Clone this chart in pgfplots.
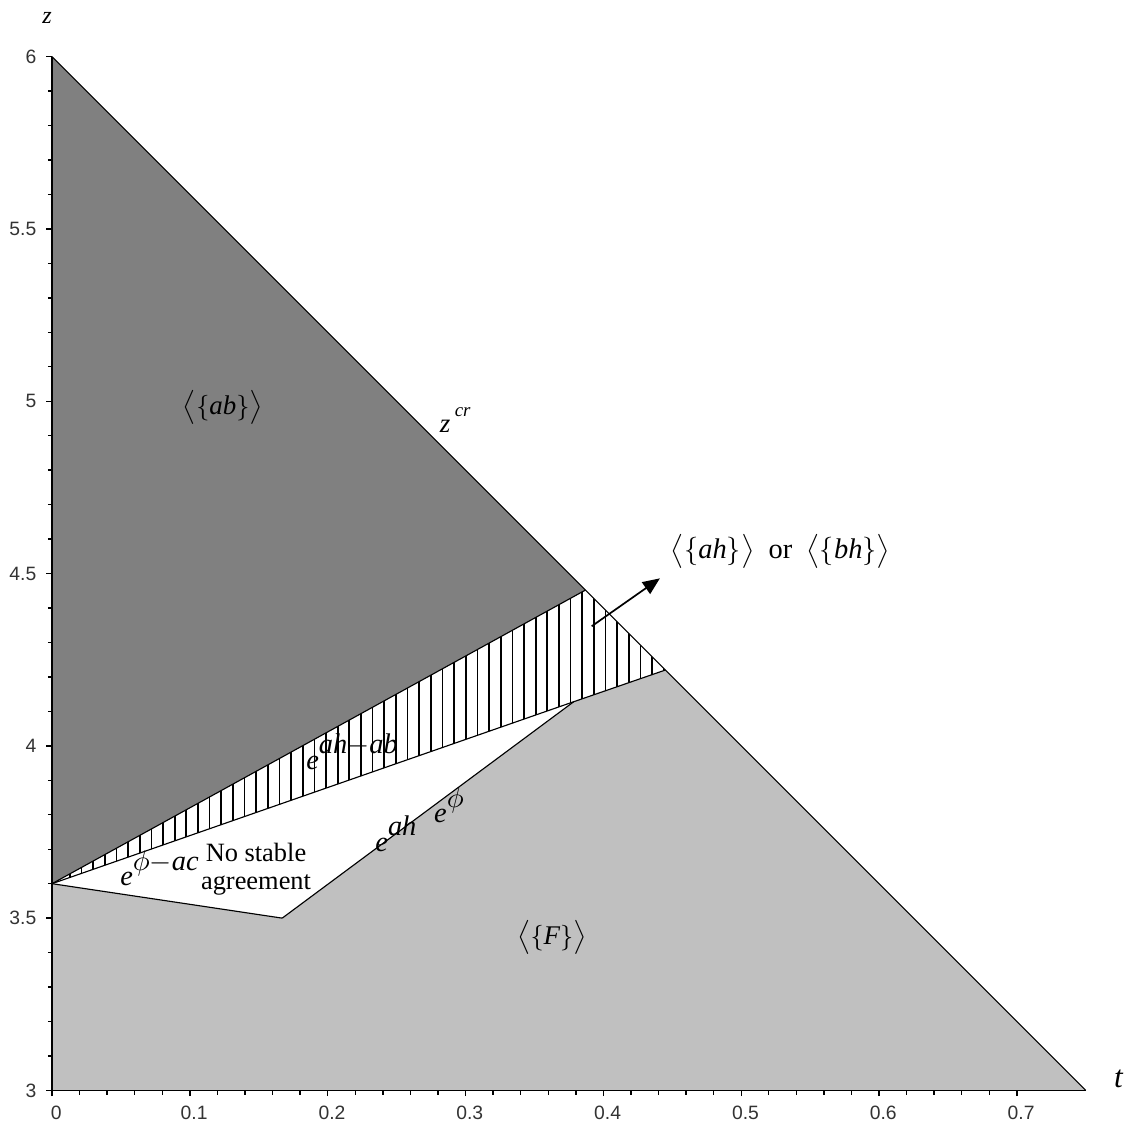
\documentclass[border=0pt]{standalone}
\usepackage{fontspec}
\setmainfont{Liberation Serif}
\newfontfamily\tickfont{Liberation Sans}
\usepackage{pgfplots}
\pgfplotsset{compat=1.18}
\usetikzlibrary{patterns.meta,arrows.meta}
\definecolor{darkreg}{RGB}{128,128,128}
\definecolor{lightreg}{RGB}{192,192,192}
\newcommand{\ex}[1]{\textit{e}\raisebox{0.55em}{#1}}
\begin{document}
\begin{tikzpicture}
\begin{axis}[
  scale only axis, width=364pt, height=364pt,
  xmin=0, xmax=0.75, ymin=3, ymax=6,
  axis lines=left, axis line style={-, line width=0.6pt},
  xtick={0,0.1,0.2,0.3,0.4,0.5,0.6,0.7},
  ytick={3,3.5,4,4.5,5,5.5,6},
  minor x tick num=4, minor y tick num=4,
  tick align=outside,
  major tick length=2pt, minor tick length=1.5pt,
  tick style={black, line width=0.5pt},
  ticklabel style={font=\tickfont\fontsize{6.8}{8}\selectfont, text=black!80},
  /pgf/number format/assume math mode=true,
  xticklabel style={xshift=1.5pt},
  clip=false,
  axis on top,
]
% regions
\addplot[fill=darkreg, draw=none] coordinates {(0,3.6) (0,6) (0.387,4.452)} -- cycle;
\addplot[fill=lightreg, draw=none] coordinates {(0,3) (0,3.6) (0.167,3.5) (0.3785,4.128) (0.445,4.22) (0.75,3)} -- cycle;
\addplot[draw=none, pattern={Lines[angle=90,distance=4.1pt,line width=0.6pt]}] coordinates {(0,3.6) (0.387,4.452) (0.445,4.22) (0.3785,4.128)} -- cycle;
% boundary lines
\addplot[black, line width=0.4pt] coordinates {(0,6) (0.75,3)};
\addplot[black, line width=0.4pt] coordinates {(0,3.6) (0.387,4.452)};
\addplot[black, line width=0.4pt] coordinates {(0,3.6) (0.3785,4.128) (0.445,4.22)};
\addplot[black, line width=0.4pt] coordinates {(0,3.6) (0.167,3.5)};
\addplot[black, line width=0.4pt] coordinates {(0.167,3.5) (0.3785,4.128)};
% arrow
\draw[-{Triangle[length=6pt,width=5pt]}, line width=0.6pt] (axis cs:0.3915,4.347) -- (axis cs:0.441,4.486);
% labels
\node[font=\fontsize{9.5}{11}\selectfont] at (axis cs:0.124,4.982) {$\big\langle\{\textit{ab}\}\big\rangle$};
\node[font=\fontsize{9.5}{11}\selectfont] at (axis cs:0.293,4.945) {\textit{z}\,\raisebox{0.2em}{\textsuperscript{\textit{cr}}}};
\node[font=\fontsize{10}{11}\selectfont] at (axis cs:0.2177,3.983) {\ex{\textit{ah}$-$\textit{ab}}};
\node[font=\fontsize{10}{11}\selectfont] at (axis cs:0.2495,3.745) {\ex{\textit{ah}}};
\node[font=\fontsize{10}{11}\selectfont] at (axis cs:0.288,3.828) {\ex{$\phi$}};
\node[font=\fontsize{9.3}{10}\selectfont, align=center] at (axis cs:0.148,3.642) {No stable\\agreement};
\node[font=\fontsize{10}{11}\selectfont] at (axis cs:0.078,3.645) {\ex{$\phi$$-$\textit{ac}}};
\node[font=\fontsize{9.5}{11}\selectfont] at (axis cs:0.3627,3.4445) {$\big\langle\{\textit{F}\}\big\rangle$};
\node[font=\fontsize{10}{11}\selectfont] at (axis cs:0.5285,4.5636) {$\big\langle\{\textit{ah}\}\big\rangle$\ \ or\ \ $\big\langle\{\textit{bh}\}\big\rangle$};
\node[font=\fontsize{11}{12}\selectfont] at (axis cs:0.774,3.033) {\textit{t}};
\node[font=\fontsize{8.5}{9}\selectfont] at (axis cs:-0.0036,6.112) {\textit{z}};
% bounding box
\path (axis cs:-0.036,2.905) rectangle (axis cs:0.7808,6.1644);
\end{axis}
\end{tikzpicture}
\end{document}
